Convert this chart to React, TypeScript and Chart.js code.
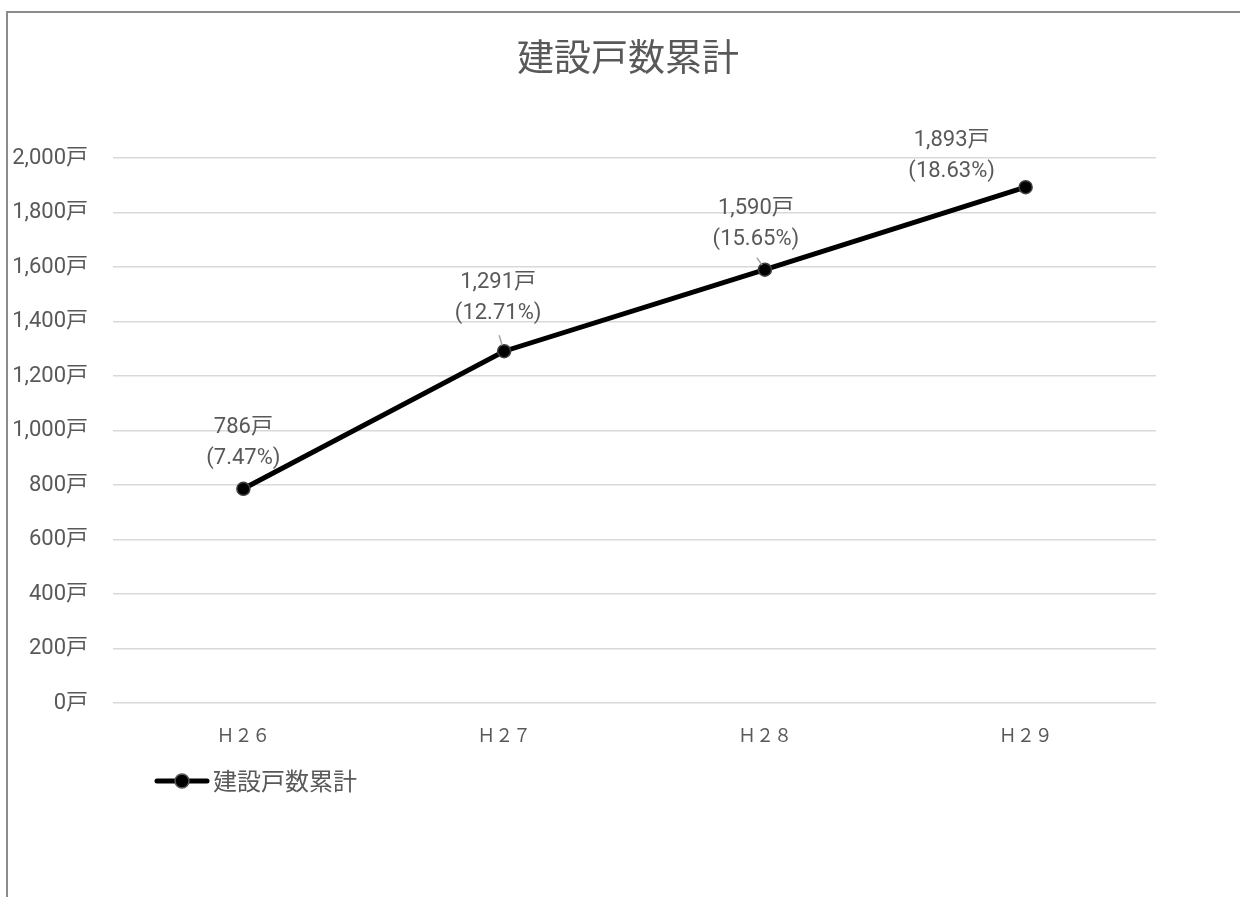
import React, { useEffect, useRef } from "react";
import { Chart, registerables } from "chart.js";

Chart.register(...registerables);

const TITLE = "建設戸数累計";
const SERIES_NAME = "建設戸数累計";
const categories = ["Ｈ２６", "Ｈ２７", "Ｈ２８", "Ｈ２９"];
const values = [786, 1291, 1590, 1893];
const shares = ["7.47%", "12.71%", "15.65%", "18.63%"];
const yMin = 0;
const yMax = 2000;
const yStep = 200;
const unit = "戸";

// label placement: [dx, dy of 2nd line]
const labelOffsets = [
  [0, -30],
  [-6, -38],
  [-9, -30],
  [-74, -16],
];
// leader lines [x1,y1,x2,y2] relative to point (null = none)
const leaders: (number[] | null)[] = [null, [-5, -16, -2, -6], [-8, -12, -3, -5], null];

const GRAY = "#595959";
const FONT = "Roboto, 'Noto Sans CJK JP', sans-serif";

const fmt = (v: number) => v.toLocaleString("en-US") + unit;

export default function App() {
  const ref = useRef<HTMLCanvasElement>(null);
  useEffect(() => {
    if (!ref.current) return;
    const overlay = {
      id: "overlay",
      afterDatasetsDraw(chart: any) {
        const ctx = chart.ctx;
        const meta = chart.getDatasetMeta(0);
        ctx.save();
        // leader lines
        meta.data.forEach((pt: any, i: number) => {
          const l = leaders[i];
          if (!l) return;
          ctx.strokeStyle = "#a6a6a6";
          ctx.lineWidth = 1.5;
          ctx.beginPath();
          ctx.moveTo(pt.x + l[0], pt.y + l[1]);
          ctx.lineTo(pt.x + l[2], pt.y + l[3]);
          ctx.stroke();
        });
        // data labels
        ctx.fillStyle = GRAY;
        ctx.font = `22px ${FONT}`;
        ctx.textAlign = "center";
        ctx.textBaseline = "middle";
        meta.data.forEach((pt: any, i: number) => {
          const [dx, dy] = labelOffsets[i];
          ctx.fillText(fmt(values[i]), pt.x + dx, pt.y + dy - 31);
          ctx.fillText(`(${shares[i]})`, pt.x + dx, pt.y + dy);
        });
        ctx.restore();
      },
      afterDraw(chart: any) {
        const ctx = chart.ctx;
        ctx.save();
        // title
        ctx.fillStyle = GRAY;
        ctx.font = `37px 'Noto Sans CJK JP', sans-serif`;
        ctx.textAlign = "center";
        ctx.textBaseline = "middle";
        ctx.fillText(TITLE, 628, 57);
        // legend
        const ly = 781;
        ctx.strokeStyle = "#000";
        ctx.lineWidth = 5;
        ctx.lineCap = "round";
        ctx.beginPath();
        ctx.moveTo(157, ly);
        ctx.lineTo(207, ly);
        ctx.stroke();
        ctx.beginPath();
        ctx.arc(182, ly, 7, 0, Math.PI * 2);
        ctx.fillStyle = "#000";
        ctx.fill();
        ctx.lineWidth = 1.5;
        ctx.strokeStyle = GRAY;
        ctx.stroke();
        ctx.fillStyle = GRAY;
        ctx.font = `24px 'Noto Sans CJK JP', sans-serif`;
        ctx.textAlign = "left";
        ctx.fillText(SERIES_NAME, 213, ly);
        ctx.restore();
      },
    };
    const chart = new Chart(ref.current, {
      type: "line",
      data: {
        labels: categories,
        datasets: [
          {
            label: SERIES_NAME,
            data: values,
            borderColor: "#000",
            borderWidth: 5,
            backgroundColor: "#000",
            pointRadius: 6.5,
            pointBackgroundColor: "#000",
            pointBorderColor: "#404040",
            pointBorderWidth: 1.5,
            tension: 0,
          },
        ],
      },
      options: {
        animation: false,
        responsive: false,
        maintainAspectRatio: false,
        layout: { padding: { top: 158, right: 84, left: 0, bottom: 0 } },
        plugins: {
          legend: { display: false },
          title: { display: false },
          tooltip: { enabled: false },
        },
        scales: {
          x: {
            offset: true,
            grid: { display: false, drawTicks: false },
            border: { display: false },
            ticks: {
              color: GRAY,
              font: { size: 18, family: "'Noto Sans CJK JP', sans-serif" },
              padding: 21,
              maxRotation: 0,
            },
            afterFit: (s: any) => {
              s.height = 897 - 703;
            },
          },
          y: {
            min: yMin,
            max: yMax,
            grid: { color: "#d9d9d9", lineWidth: 1.5, drawTicks: false },
            border: { display: false },
            ticks: {
              stepSize: yStep,
              color: GRAY,
              font: { size: 22, family: FONT },
              padding: 25,
              callback: (v: any) => fmt(Number(v)),
            },
            afterFit: (s: any) => {
              s.width = 113;
            },
          },
        },
      },
      plugins: [overlay],
    });
    return () => chart.destroy();
  }, []);
  return (
    <div style={{ position: "fixed", left: 0, top: 0, width: 1240, height: 897, background: "#fff", overflow: "hidden" }}>
      <canvas ref={ref} width={1240} height={897} style={{ position: "absolute", left: 0, top: 0 }} />
      <div
        style={{
          position: "absolute",
          left: 6,
          top: 11,
          width: 1300,
          height: 1000,
          borderLeft: "2px solid #8c8c8c",
          borderTop: "2px solid #8c8c8c",
          pointerEvents: "none",
        }}
      />
    </div>
  );
}
